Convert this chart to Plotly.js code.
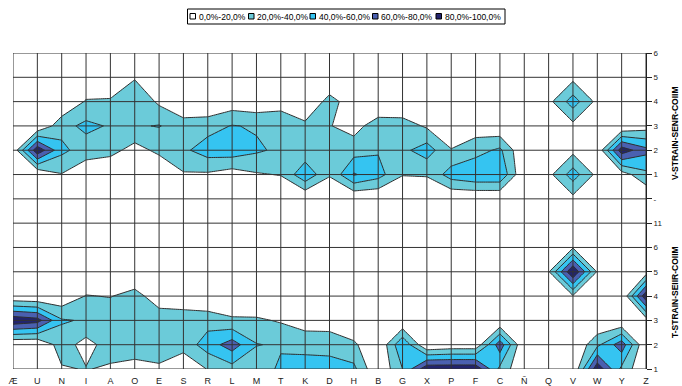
<!DOCTYPE html>
<html>
<head>
<meta charset="utf-8">
<script src="https://cdn.plot.ly/plotly-3.0.1.min.js"></script>
<style>
  html, body { margin: 0; padding: 0; background: #ffffff; }
  #chart { width: 682px; height: 386px; }
</style>
</head>
<body>
<div id="chart"></div>
<script>
// Categories along the bottom and the row labels on the right axis (bottom to top)
const categories = ['Æ','U','N','I','A','O','E','S','R','L','M','T','K','D','H','B','G','X','P','F','C','Ñ','Q','V','W','Y','Z'];
const rowLabels = ['1','2','3','4','5','6','11','-','1','2','3','4','5','6'];

// Percentages per row, one value per category (Æ ... Z)
// T-STRAIN block, rows 1..6
const t1 = [0, 0, 18, 21, 17, 12, 17, 4, 21, 32, 25, 45, 50, 48, 45, 0, 40, 95, 95, 95, 35, 0, 0, 0, 95, 35, 0];
const t2 = [0, 0, 30, 12, 30, 32, 30, 28, 50, 70, 41, 37, 33, 33, 24, 0, 58, 0, 5, 5, 72, 0, 0, 0, 35, 72, 0];
const t3 = [95, 88, 42, 38, 35, 35, 32, 35, 32, 23, 23, 18, 10, 9, 0, 0, 0, 0, 0, 0, 0, 0, 0, 0, 0, 0, 10];
const t4 = [2, 0, 4, 21, 19, 28, 8, 1, 0, 3, 0, 0, 0, 0, 0, 0, 0, 0, 0, 0, 0, 0, 0, 18, 0, 0, 95];
const t5 = [0, 0, 0, 0, 0, 0, 0, 0, 0, 0, 0, 0, 0, 0, 0, 0, 0, 0, 0, 0, 0, 0, 18, 100, 18, 0, 10];
const t6 = [0, 0, 0, 0, 0, 0, 0, 0, 0, 0, 0, 0, 0, 0, 0, 0, 0, 0, 0, 0, 0, 0, 0, 18, 0, 0, 0];
// separator rows
const row11 = [0, 0, 0, 0, 0, 0, 0, 0, 0, 0, 0, 0, 0, 0, 0, 0, 0, 0, 0, 0, 0, 0, 0, 0, 0, 0, 0];
const rowDash = [0, 0, 0, 0, 0, 0, 0, 0, 0, 0, 0, 0, 0, 0, 0, 0, 0, 0, 0, 0, 0, 0, 0, 14, 0, 0, 0];
// V-STRAIN block, rows 1..6
const v1 = [0, 0, 19, 5, 0, 0, 0, 18, 17, 10, 18, 21, 56, 22, 62, 48, 21, 22, 50, 58, 58, 0, 14, 50, 14, 10, 35];
const v2 = [5, 95, 45, 30, 27, 12, 25, 36, 50, 52, 43, 36, 25, 35, 31, 38, 35, 50, 21, 32, 44, 0, 0, 14, 3, 92, 66];
const v3 = [0, 0, 33, 45, 38, 38, 41, 30, 32, 41, 38, 36, 25, 21, 12, 31, 30, 17, 5, 9, 2, 0, 0, 14, 0, 0, 10];
const v4 = [0, 0, 0, 22, 23, 38, 16, 0, 0, 8, 5, 10, 0, 28, 8, 0, 0, 0, 0, 0, 0, 0, 14, 50, 14, 0, 0];
const v5 = [0, 0, 0, 0, 0, 18, 0, 0, 0, 0, 0, 0, 0, 0, 0, 0, 0, 0, 0, 0, 0, 0, 0, 14, 0, 0, 0];
const v6 = [0, 0, 0, 0, 0, 0, 0, 0, 0, 0, 0, 0, 0, 0, 0, 0, 0, 0, 0, 0, 0, 0, 0, 0, 0, 0, 0];

const bandLabels = ['0,0%-20,0%', '20,0%-40,0%', '40,0%-60,0%', '60,0%-80,0%', '80,0%-100,0%'];
const axisTitles = ['V-STRAIN-SENR-COIIM', 'T-STRAIN-SEIIR-COIIM'];

// ---- styling ----
const bandColors = ['#ffffff', '#6bcbd9', '#35c4f1', '#4a60b0', '#22246e'];
const FONT = 'Liberation Sans, Arial, sans-serif';
const GRID = '#333333';

// plot-area edges in page pixels, used to place the legend and side titles
const PL = 13, PR = 646, PT = 53, PB = 369;
const px = v => (v - PL) / (PR - PL);
const py = v => (PB - v) / (PB - PT);

const zRows = [t1, t2, t3, t4, t5, t6, row11, rowDash, v1, v2, v3, v4, v5, v6];
const xIdx = categories.map((_, i) => i);
const yIdx = rowLabels.map((_, i) => i);

// stepped colour scale: one flat colour per 20% band
const colorscale = [
  [0, bandColors[0]], [0.125, bandColors[0]],
  [0.125, bandColors[1]], [0.375, bandColors[1]],
  [0.375, bandColors[2]], [0.625, bandColors[2]],
  [0.625, bandColors[3]], [0.875, bandColors[3]],
  [0.875, bandColors[4]], [1, bandColors[4]]
];

const contour = {
  type: 'contour',
  x: xIdx,
  y: yIdx,
  z: zRows,
  autocontour: false,
  contours: { start: 20, end: 80, size: 20, coloring: 'fill', showlines: true },
  line: { color: '#2e2e2e', width: 1, smoothing: 0 },
  colorscale: colorscale,
  showscale: false,
  hoverinfo: 'skip'
};

// grid drawn over the filled bands
const shapes = [];
xIdx.forEach(i => shapes.push({
  type: 'line', layer: 'above', xref: 'x', yref: 'paper',
  x0: i, x1: i, y0: 0, y1: 1, line: { color: GRID, width: 1 }
}));
yIdx.forEach(j => shapes.push({
  type: 'line', layer: 'above', xref: 'paper', yref: 'y',
  x0: 0, x1: 1, y0: j, y1: j, line: { color: GRID, width: 1 }
}));

// legend frame, swatches and labels
const legendBox = { x0: 187.5, x1: 505, y0: 9, y1: 24 };
const swatchLeft = [190, 248.5, 310, 372.5, 436];
const textLeft = [197, 255, 317, 379, 442.5];
const annotations = [];
shapes.push({
  type: 'rect', layer: 'above', xref: 'paper', yref: 'paper',
  x0: px(legendBox.x0), x1: px(legendBox.x1), y0: py(legendBox.y1), y1: py(legendBox.y0),
  line: { color: '#000000', width: 1 }, fillcolor: 'rgba(0,0,0,0)'
});
bandLabels.forEach((lab, i) => {
  shapes.push({
    type: 'rect', layer: 'above', xref: 'paper', yref: 'paper',
    x0: px(swatchLeft[i]), x1: px(swatchLeft[i] + 5.5), y0: py(19), y1: py(13.5),
    line: { color: '#000000', width: 1 }, fillcolor: bandColors[i]
  });
  annotations.push({
    xref: 'paper', yref: 'paper', x: px(textLeft[i]), y: py(16.5),
    xanchor: 'left', yanchor: 'middle', showarrow: false,
    text: lab, font: { family: FONT, size: 8.5, color: '#000000' }
  });
});

// right-hand block titles
const titleCenters = [133, 292];
axisTitles.forEach((t, i) => annotations.push({
  xref: 'paper', yref: 'paper', x: px(675), y: py(titleCenters[i]),
  xanchor: 'center', yanchor: 'middle', showarrow: false, textangle: -90,
  text: '<b>' + t + '</b>', font: { family: FONT, size: 8.5, color: '#000000' }
}));

const layout = {
  width: 682,
  height: 386,
  margin: { l: PL, r: 682 - PR, t: PT, b: 386 - PB, pad: 0 },
  paper_bgcolor: '#ffffff',
  plot_bgcolor: '#ffffff',
  showlegend: false,
  xaxis: {
    range: [0, 26],
    tickvals: xIdx,
    ticktext: categories,
    showgrid: false, zeroline: false, showline: false,
    ticks: '',
    ticklabelstandoff: 5,
    tickfont: { family: FONT, size: 9, color: '#222222' },
    fixedrange: true
  },
  yaxis: {
    range: [0, 13],
    side: 'right',
    tickvals: yIdx,
    ticktext: rowLabels,
    showgrid: false, zeroline: false,
    showline: true, linecolor: '#222222', linewidth: 1,
    ticks: 'outside', ticklen: 5, tickcolor: '#222222', tickwidth: 1,
    tickfont: { family: FONT, size: 8, color: '#222222' },
    fixedrange: true
  },
  shapes: shapes,
  annotations: annotations
};

Plotly.newPlot('chart', [contour], layout, { displayModeBar: false, staticPlot: true });
</script>
</body>
</html>
